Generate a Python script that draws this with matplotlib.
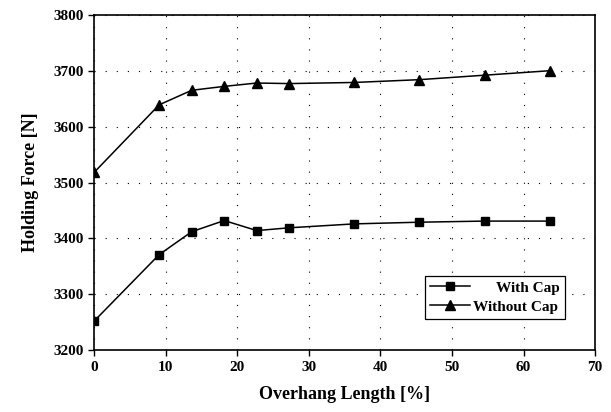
import matplotlib
matplotlib.use("Agg")
import matplotlib.pyplot as plt

overhang = [0, 9.09, 13.64, 18.18, 22.73, 27.27, 36.36, 45.45, 54.55, 63.64]
with_cap = [3252, 3371, 3412, 3432, 3414, 3419, 3426, 3429, 3431, 3431]
without_cap = [3518, 3639, 3665, 3672, 3678, 3677, 3679, 3684, 3692, 3700]

plt.rcParams["font.family"] = ["Liberation Serif", "DejaVu Serif"]
plt.rcParams["font.weight"] = "bold"

fig = plt.figure(figsize=(6.11, 4.12), dpi=100)
ax = fig.add_axes([0.154, 0.150, 0.820, 0.814])

ax.plot(overhang, with_cap, color="black", marker="s", markersize=6, linewidth=1.1,
        label="      With Cap")
ax.plot(overhang, without_cap, color="black", marker="^", markersize=7, linewidth=1.1,
        label="Without Cap")

ax.set_xlim(0, 70)
ax.set_ylim(3200, 3800)
ax.set_xticks(range(0, 71, 10))
ax.set_yticks(range(3200, 3801, 100))
ax.grid(True, color="black", linestyle=(0, (1, 9)), linewidth=0.8)
ax.tick_params(direction="out", length=4, width=1, labelsize=11)
for label in ax.get_xticklabels() + ax.get_yticklabels():
    label.set_fontweight("bold")
for spine in ax.spines.values():
    spine.set_linewidth(1.2)

ax.set_xlabel("Overhang Length [%]", fontsize=13, fontweight="bold", labelpad=9)
ax.set_ylabel("Holding Force [N]", fontsize=13, fontweight="bold", labelpad=10)

leg = ax.legend(loc="lower right", bbox_to_anchor=(0.955, 0.07), fancybox=False,
                edgecolor="black", framealpha=1, fontsize=11, handlelength=2.6,
                borderpad=0.35, labelspacing=0.35, handletextpad=0.2)
leg.get_frame().set_linewidth(0.9)
for t in leg.get_texts():
    t.set_fontweight("bold")

fig.savefig("out.png", dpi=100)
